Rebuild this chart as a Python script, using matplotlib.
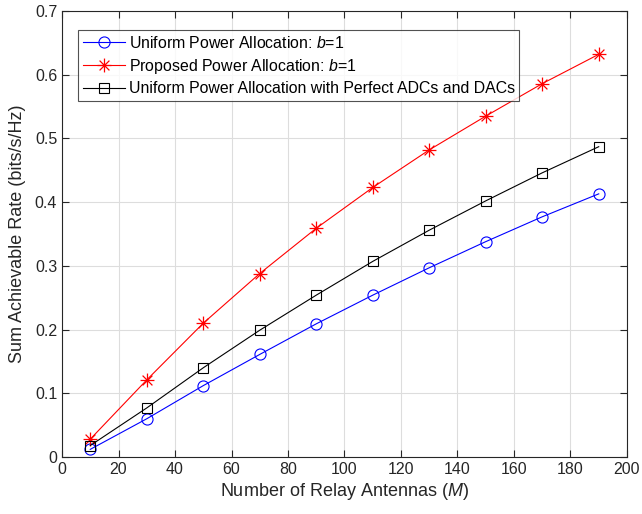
import matplotlib
matplotlib.use("Agg")
import matplotlib.pyplot as plt
from matplotlib.path import Path
import numpy as np

M = [10, 30, 50, 70, 90, 110, 130, 150, 170, 190]
uniform_b1 = [0.012, 0.060, 0.112, 0.161, 0.209, 0.254, 0.297, 0.338, 0.377, 0.413]
proposed_b1 = [0.028, 0.121, 0.210, 0.288, 0.359, 0.423, 0.482, 0.535, 0.586, 0.632]
uniform_perfect = [0.018, 0.077, 0.140, 0.199, 0.254, 0.307, 0.356, 0.402, 0.446, 0.487]

labels = ["Uniform Power Allocation: $\\mathit{b}$=1",
          "Proposed Power Allocation: $\\mathit{b}$=1",
          "Uniform Power Allocation with Perfect ADCs and DACs"]

plt.rcParams['font.family'] = ['Liberation Sans', 'DejaVu Sans']
plt.rcParams['mathtext.fontset'] = 'custom'
plt.rcParams['mathtext.it'] = 'Liberation Sans:italic'
plt.rcParams['mathtext.rm'] = 'Liberation Sans'

# MATLAB-style asterisk: '+' overlaid with 'x'
d = 1 / np.sqrt(2)
verts = [(-1, 0), (1, 0), (0, -1), (0, 1), (-d, -d), (d, d), (-d, d), (d, -d)]
codes = [Path.MOVETO, Path.LINETO] * 4
asterisk = Path(verts, codes)

fig = plt.figure(figsize=(6.42, 5.14), dpi=100)
ax = fig.add_axes([0.0966, 0.1109, 0.88, 0.8677])

ax.plot(M, uniform_b1, color='blue', marker='o', markersize=8, markerfacecolor='none',
        linewidth=0.8, markeredgewidth=0.8, label=labels[0])
ax.plot(M, proposed_b1, color='red', marker=asterisk, markersize=10, markerfacecolor='none',
        linewidth=0.8, markeredgewidth=0.9, label=labels[1])
ax.plot(M, uniform_perfect, color='black', marker='s', markersize=7, markerfacecolor='none',
        linewidth=0.8, markeredgewidth=0.8, label=labels[2])

ax.set_xlim(0, 200)
ax.set_ylim(0, 0.7)
ax.set_xticks(range(0, 201, 20))
ax.set_yticks([0, 0.1, 0.2, 0.3, 0.4, 0.5, 0.6, 0.7])
ax.set_yticklabels(['0', '0.1', '0.2', '0.3', '0.4', '0.5', '0.6', '0.7'])
ax.grid(True, color='#dddddd', linewidth=0.8)
ax.set_axisbelow(True)
ax.tick_params(direction='in', labelsize=11.5, top=True, right=True, length=5, colors='#262626')
for s in ax.spines.values():
    s.set_color('#262626')
    s.set_linewidth(0.8)

ax.set_xlabel("Number of Relay Antennas ($\\mathit{M}$)", fontsize=13, color='#262626', labelpad=3)
ax.set_ylabel("Sum Achievable Rate (bits/s/Hz)", fontsize=13, color='#262626', labelpad=6)

leg = ax.legend(loc='upper left', bbox_to_anchor=(0.028, 0.957), fontsize=11.4, frameon=True,
                fancybox=False, edgecolor='#262626', handlelength=2.7, borderpad=0.3,
                labelspacing=0.36, handletextpad=0.2, borderaxespad=0.0)
leg.get_frame().set_linewidth(0.8)

fig.savefig("out.png", dpi=100)
